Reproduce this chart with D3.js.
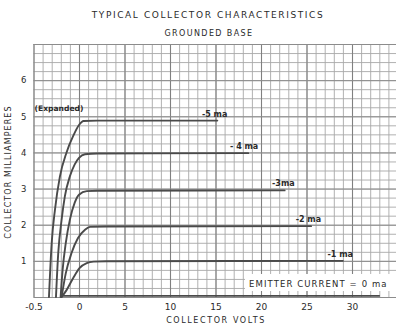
<!DOCTYPE html>
<html>
<head>
<meta charset="utf-8">
<script src="https://cdn.jsdelivr.net/npm/d3@7"></script>
<style>
  html, body { margin: 0; padding: 0; background: #fff; }
  svg { display: block; }
  text { font-family: "DejaVu Sans", sans-serif; fill: #2a2a2a; }
</style>
</head>
<body>
<svg id="chart" width="396" height="325"></svg>
<script>
// Collector characteristics, grounded base: collector mA vs collector volts,
// one curve per emitter current. Points are [volts, milliamperes].
const emitterLabels = ["-5 ma", "- 4 ma", "-3ma", "-2 ma", "-1 ma"];
const curveMinus5 = [[-0.33, 0], [-0.30, 1.5], [-0.264, 2.42], [-0.21, 3.33], [-0.137, 4.0], [-0.065, 4.45], [0.0, 4.76], [0.5, 4.87], [2, 4.88], [15.2, 4.88]];
const curveMinus4 = [[-0.253, 0], [-0.228, 1.22], [-0.191, 2.14], [-0.155, 2.79], [-0.10, 3.34], [-0.047, 3.67], [0.0, 3.85], [0.66, 3.95], [2, 3.97], [18.6, 3.98]];
const curveMinus3 = [[-0.202, 0], [-0.18, 0.75], [-0.145, 1.5], [-0.10, 2.14], [-0.047, 2.61], [0.0, 2.83], [0.85, 2.93], [2, 2.94], [22.6, 2.95]];
const curveMinus2 = [[-0.191, 0], [-0.145, 0.66], [-0.083, 1.21], [-0.011, 1.63], [0.66, 1.86], [1.2, 1.94], [3, 1.95], [25.5, 1.96]];
const curveMinus1 = [[-0.191, 0], [-0.137, 0.19], [-0.065, 0.52], [0.05, 0.8], [0.85, 0.94], [1.6, 0.98], [3, 0.99], [29, 1.0]];
const curveZero = [[-0.19, 0.03], [33, 0.03]];
const labelledCurves = [curveMinus5, curveMinus4, curveMinus3, curveMinus2, curveMinus1];

const xTickValues = [-0.5, 0, 5, 10, 15, 20, 25, 30];
const xTickLabels = ["-0.5", "0", "5", "10", "15", "20", "25", "30"];
const yTickValues = [1, 2, 3, 4, 5, 6];

const svg = d3.select("#chart");
const plotLeft = 33.5, plotRight = 397.5, plotTop = 44, plotBottom = 297;

// Voltage axis: the -0.5..0 V span is expanded to the width of 5 V.
const x = d3.scaleLinear().domain([-0.5, 0, 35]).range([plotLeft, 79, plotRight]);
const y = d3.scaleLinear().domain([0, 7]).range([plotBottom, plotTop]);

// Graph-paper grid
const fineV = d3.range(-5, 1).map(i => i / 10).concat(d3.range(1, 36));
const majorV = fineV.filter(v => v <= 0 ? Math.abs(v + 0.5) < 1e-9 || v === 0 : v % 5 === 0);
const fineI = d3.range(0, 29).map(i => i / 4);
const majorI = d3.range(0, 8);

const grid = svg.append("g");
grid.append("g").attr("transform", `translate(0,${plotBottom})`)
  .call(d3.axisBottom(x).tickValues(fineV).tickSize(-(plotBottom - plotTop)).tickFormat(""))
  .call(g => g.select(".domain").remove())
  .selectAll("line").attr("stroke", "#a8a8a8").attr("stroke-width", 0.9);
grid.append("g").attr("transform", `translate(${plotLeft},0)`)
  .call(d3.axisLeft(y).tickValues(fineI).tickSize(-(plotRight - plotLeft)).tickFormat(""))
  .call(g => g.select(".domain").remove())
  .selectAll("line").attr("stroke", "#a8a8a8").attr("stroke-width", 0.9);
grid.append("g").attr("transform", `translate(0,${plotBottom})`)
  .call(d3.axisBottom(x).tickValues(majorV).tickSize(-(plotBottom - plotTop)).tickFormat(""))
  .call(g => g.select(".domain").remove())
  .selectAll("line").attr("stroke", "#808080").attr("stroke-width", 1.1);
grid.append("g").attr("transform", `translate(${plotLeft},0)`)
  .call(d3.axisLeft(y).tickValues(majorI).tickSize(-(plotRight - plotLeft)).tickFormat(""))
  .call(g => g.select(".domain").remove())
  .selectAll("line").attr("stroke", "#8c8c8c").attr("stroke-width", 1);

// Axis labels
const xAxis = svg.append("g").attr("transform", `translate(0,${plotBottom + 3})`)
  .call(d3.axisBottom(x).tickValues(xTickValues).tickSize(0)
    .tickFormat((d, i) => xTickLabels[i]));
xAxis.select(".domain").remove();
xAxis.selectAll("text").attr("font-size", 9).attr("font-family", "DejaVu Sans")
  .attr("fill", "#333").attr("dy", "0.8em");

const yAxis = svg.append("g").attr("transform", `translate(${plotLeft - 4},0)`)
  .call(d3.axisLeft(y).tickValues(yTickValues).tickSize(0).tickFormat(d3.format("d")));
yAxis.select(".domain").remove();
yAxis.selectAll("text").attr("font-size", 8.5).attr("font-family", "DejaVu Sans")
  .attr("fill", "#333");

// Curves
const line = d3.line().x(d => x(d[0])).y(d => y(d[1])).curve(d3.curveMonotoneX);
const curves = svg.append("g").attr("fill", "none").attr("stroke", "#4a4a4a")
  .attr("stroke-linecap", "round").attr("stroke-linejoin", "round");
labelledCurves.forEach(c => curves.append("path").attr("d", line(c)).attr("stroke-width", 1.9));
curves.append("path").attr("d", line(curveZero)).attr("stroke-width", 1.6);

// Curve labels at the right end of each plateau
labelledCurves.forEach((c, i) => {
  const end = c[c.length - 1];
  svg.append("text")
    .attr("x", x(end[0]) + 10).attr("y", y(end[1]) - 4)
    .attr("text-anchor", "end").attr("font-size", 8).attr("font-weight", "bold")
    .attr("fill", "#333")
    .text(emitterLabels[i]);
});

// Zero emitter current note on a white patch
svg.append("rect").attr("x", 245).attr("y", 274).attr("width", 151).attr("height", 17).attr("fill", "#fff");
svg.append("text").attr("x", 249).attr("y", 287).attr("font-size", 8.5)
  .attr("letter-spacing", 1.1).attr("fill", "#2a2a2a")
  .text("EMITTER CURRENT = 0 ma");

svg.append("text").attr("x", plotLeft + 1).attr("y", y(5) - 5)
  .attr("font-size", 7.6).attr("font-weight", "bold").attr("fill", "#2a2a2a")
  .text("(Expanded)");

// Titles
svg.append("text").attr("x", 208).attr("y", 18).attr("text-anchor", "middle")
  .attr("font-size", 9).attr("letter-spacing", 1.6).text("TYPICAL COLLECTOR CHARACTERISTICS");
svg.append("text").attr("x", 209).attr("y", 36).attr("text-anchor", "middle")
  .attr("font-size", 8).attr("letter-spacing", 1.4).text("GROUNDED BASE");
svg.append("text").attr("x", 216).attr("y", 323).attr("text-anchor", "middle")
  .attr("font-size", 8).attr("letter-spacing", 1.6).text("COLLECTOR VOLTS");
svg.append("text").attr("transform", "translate(11,172) rotate(-90)").attr("text-anchor", "middle")
  .attr("font-size", 8).attr("letter-spacing", 1.1).text("COLLECTOR MILLIAMPERES");
</script>
</body>
</html>
